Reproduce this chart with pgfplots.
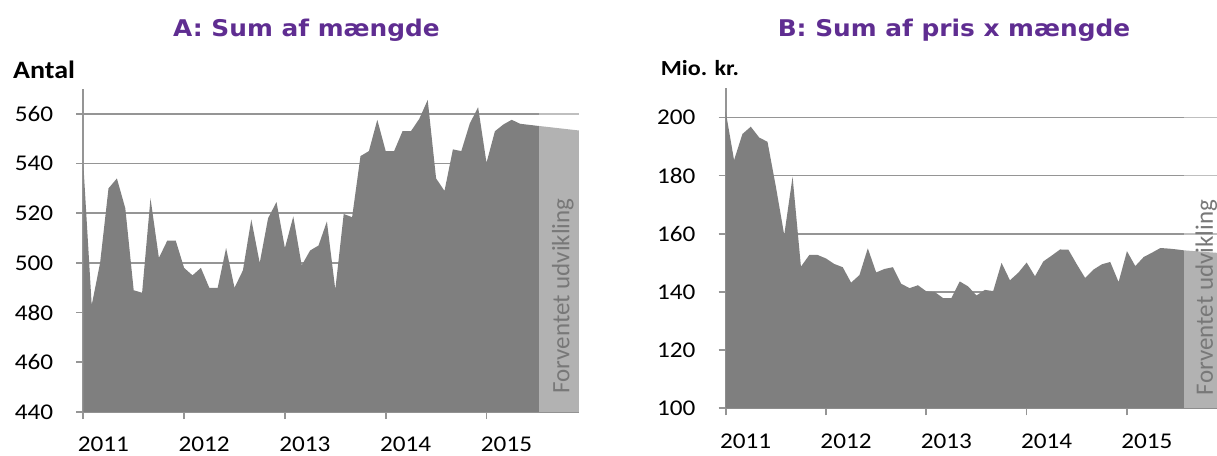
\documentclass[border=0pt]{standalone}
\usepackage{fontspec}
\usepackage{pgfplots}
\pgfplotsset{compat=1.18}
\setmainfont{Carlito}[FakeStretch=1.12]
\newfontfamily\titlefont{DejaVu Sans}[FakeStretch=1.08]
\newfontfamily\rotfont{Carlito}
\definecolor{areagray}{HTML}{7F7F7F}
\definecolor{gridgray}{HTML}{959595}
\definecolor{titlepurple}{HTML}{5F2D91}
\definecolor{txtgray}{HTML}{787878}
\pgfplotsset{
  myaxis/.style={
    scale only axis, anchor=south west,
    axis x line=bottom, axis y line=left,
    axis line style={-, gridgray, line width=1.7pt},
    ymajorgrids, grid style={gridgray, line width=1.7pt},
    xmin=0, xmax=59,
    xtick={0,12,24,36,48}, xticklabels={2011,2012,2013,2014,2015},
    tick align=outside, major tick length=7pt,
    tick style={gridgray, line width=1.7pt},
    x tick label style={font=\fontsize{22.5}{26}\selectfont, anchor=north, inner sep=0pt, xshift=20pt, yshift=-18pt},
    y tick label style={font=\fontsize{22.5}{26}\selectfont, anchor=east, inner sep=0pt, xshift=-23pt},
    /pgf/number format/assume math mode=true,
    clip=false,
  }
}
\begin{document}
\begin{tikzpicture}
\useasboundingbox (0,0) rectangle (1217pt,455pt);
\clip (0,0) rectangle (1217pt,455pt);
% Titles
\node[anchor=base, inner sep=0pt, font=\titlefont\bfseries\fontsize{23}{27}\selectfont, text=titlepurple] at (306.5pt,418.3pt) {A: Sum af mængde};
\node[anchor=base, inner sep=0pt, font=\titlefont\bfseries\fontsize{23}{27}\selectfont, text=titlepurple] at (954pt,418.3pt) {B: Sum af pris x mængde};
\node[anchor=base west, inner sep=0pt, font=\bfseries\fontsize{25}{29}\selectfont] at (13pt,376.7pt) {Antal};
\node[anchor=base west, inner sep=0pt, font=\bfseries\fontsize{21.5}{25}\selectfont] at (660.7pt,379.3pt) {Mio. kr.};

% Chart A
\begin{axis}[myaxis, at={(83.3pt,43pt)}, width=495.6pt, height=323pt,
  ymin=440, ymax=570, ytick={440,460,...,560}]
\addplot[fill=areagray, draw=none] coordinates {
(0,540) (1,483) (2,500) (3,530) (4,534) (5,522) (6,489) (7,488) (8,526) (9,502)
(10,509) (11,509) (12,498) (13,495) (14,498) (15,490) (16,490) (17,506) (18,490) (19,497)
(20,517.5) (21,500) (22,518) (23,524.5) (24,506) (25,518.7) (26,499) (27,505) (28,507) (29,516.7)
(30,489.3) (31,519.7) (32,518.4) (33,543) (34,545) (35,557.6) (36,545) (37,545) (38,553) (39,553)
(40,558) (41,565.6) (42,534) (43,529) (44,545.7) (45,545) (46,556) (47,562.7) (48,540.3) (49,553)
(50,555.7) (51,557.6) (52,556) (53,555.6) (54,555.2) (54.3,555.1) (59,553.3)
} \closedcycle;
\fill[white, opacity=0.4] (axis cs:54.3,440) rectangle (axis cs:59,570);
\node[rotate=90, inner sep=0pt, font=\rotfont\fontsize{25}{29}\selectfont, text=txtgray] at (axis cs:57.1,486.7) {Forventet udvikling};
\end{axis}

% Chart B
\begin{axis}[myaxis, at={(725.7pt,46.7pt)}, width=493.2pt, height=320pt,
  ymin=100, ymax=210, ytick={100,120,...,200}]
\addplot[fill=areagray, draw=none] coordinates {
(0,202) (1,185.3) (2,194.3) (3,196.8) (4,193.1) (5,191.6) (6,176.2) (7,159.6) (8,179.6) (9,148.7)
(10,152.7) (11,152.7) (12,151.5) (13,149.6) (14,148.5) (15,143.2) (16,145.8) (17,155) (18,146.7) (19,147.9)
(20,148.5) (21,142.8) (22,141.3) (23,142.3) (24,140.2) (25,140) (26,137.9) (27,137.9) (28,143.6) (29,141.9)
(30,138.8) (31,140.7) (32,140.3) (33,150) (34,144) (35,146.6) (36,150.1) (37,145.4) (38,150.5) (39,152.5)
(40,154.6) (41,154.5) (42,149.5) (43,144.8) (44,147.7) (45,149.5) (46,150.3) (47,143.4) (48,154) (49,148.9)
(50,152) (51,153.5) (52,155.1) (53,154.9) (54,154.6) (54.8,154.3) (59,153.4)
} \closedcycle;
\fill[white, opacity=0.4] (axis cs:54.8,100) rectangle (axis cs:59,210);
\node[rotate=90, inner sep=0pt, font=\rotfont\fontsize{25}{29}\selectfont, text=txtgray] at (axis cs:57.5,138.1) {Forventet udvikling};
\end{axis}
\end{tikzpicture}
\end{document}
